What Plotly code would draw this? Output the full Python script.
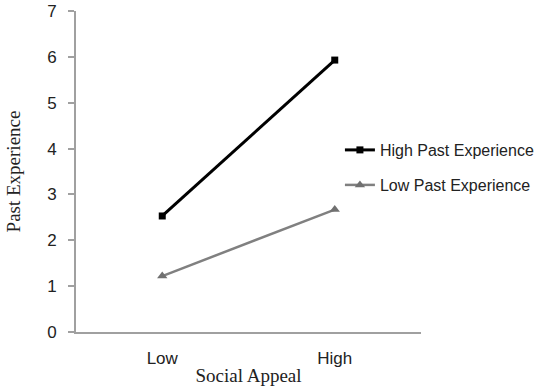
import plotly.graph_objects as go

categories = ["Low", "High"]
high_past = [2.53, 5.93]
low_past = [1.22, 2.67]
y_ticks = [0, 1, 2, 3, 4, 5, 6, 7]

fig = go.Figure()
fig.add_trace(go.Scatter(
    x=categories, y=high_past, name="High Past Experience",
    mode="lines+markers",
    line=dict(color="#000000", width=3),
    marker=dict(symbol="square", size=7, color="#000000"),
    legend="legend",
))
fig.add_trace(go.Scatter(
    x=categories, y=low_past, name="Low Past Experience",
    mode="lines+markers",
    line=dict(color="#808080", width=2.5),
    marker=dict(symbol="triangle-up", size=9, color="#707070"),
    legend="legend2",
))

legend_common = dict(xanchor="left", yanchor="middle",
                     font=dict(family="Liberation Sans, Arial, sans-serif", size=16, color="#222222"),
                     bgcolor="rgba(0,0,0,0)")

fig.update_layout(
    width=550, height=391,
    margin=dict(l=76, r=125, t=11, b=59),
    paper_bgcolor="white", plot_bgcolor="white",
    font=dict(family="Liberation Sans, Arial, sans-serif", size=17, color="#222222"),
    showlegend=True,
    legend=dict(x=0.765, y=(332 - 150) / 321, **legend_common),
    legend2=dict(x=0.765, y=(332 - 185) / 321, **legend_common),
    xaxis=dict(
        type="category", range=[-0.5, 1.5], automargin=False,
        showline=True, linecolor="#a0a0a0", linewidth=2,
        showgrid=False, zeroline=False, ticks="",
        ticklabelstandoff=10, ticklabeloverflow="allow",
        tickfont=dict(size=17),
        title=dict(text="Social Appeal", standoff=1,
                   font=dict(family="Liberation Serif, Times New Roman, serif", size=19, color="#222222")),
    ),
    yaxis=dict(
        range=[0, 7], tickvals=y_ticks, automargin=False,
        showline=True, linecolor="#a0a0a0", linewidth=2,
        showgrid=False, zeroline=False,
        ticks="outside", ticklen=6, tickcolor="#a0a0a0", tickwidth=2,
        ticklabelstandoff=8, ticklabeloverflow="allow",
        tickfont=dict(size=17),
        title=dict(text="Past Experience", standoff=21,
                   font=dict(family="Liberation Serif, Times New Roman, serif", size=19, color="#222222")),
    ),
)

fig.write_html("out.html", config={"displayModeBar": False},
               post_script="document.body.style.margin='0px';")
